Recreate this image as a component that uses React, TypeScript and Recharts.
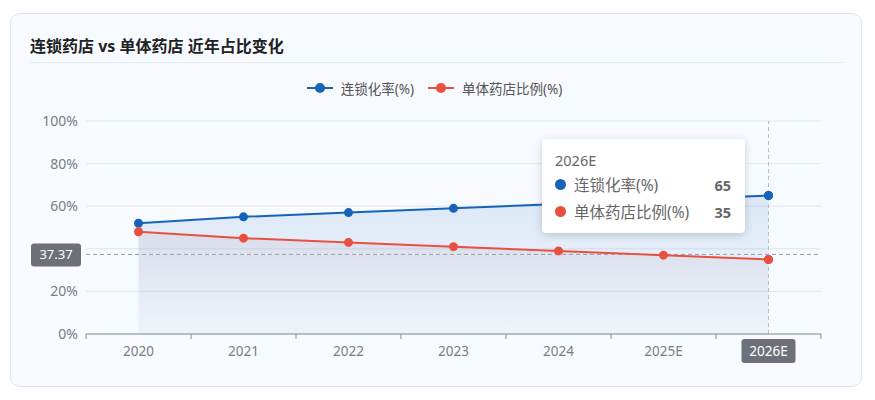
import React from 'react'
import { ComposedChart, Area, Line, XAxis, YAxis, CartesianGrid, Tooltip, ReferenceLine } from 'recharts'

const years = ['2020', '2021', '2022', '2023', '2024', '2025E', '2026E']
const chainRate = [52, 55, 57, 59, 61, 63, 65]
const singleRate = [48, 45, 43, 41, 39, 37, 35]
const yTicks = [0, 20, 40, 60, 80, 100]
const pointerValue = 37.37
const activeYear = '2026E'

const CHAIN_NAME = '连锁化率(%)'
const SINGLE_NAME = '单体药店比例(%)'
const BLUE = '#1763b8'
const RED = '#e8503f'
const FONT = '"Noto Sans", "Noto Sans CJK SC", sans-serif'

const data = years.map((year, i) => ({ year, chain: chainRate[i], single: singleRate[i] }))

const XTick = (props: any) => {
  const { x, y, payload, index } = props
  const half = payload.offset || 0
  const active = payload.value === activeYear
  return (
    <g>
      <line x1={x - half} x2={x - half} y1={y - 8} y2={y - 3} stroke="#8a8d96" />
      {index === years.length - 1 && <line x1={x + half} x2={x + half} y1={y - 8} y2={y - 3} stroke="#8a8d96" />}
      {active && <rect x={x - 27} y={y - 3} width={54} height={24} rx={3} fill="#6e7079" />}
      <text x={x} y={y + 14} textAnchor="middle" fontSize={13.5} fontFamily={FONT} fill={active ? '#fff' : '#7a7d86'}>
        {payload.value}
      </text>
    </g>
  )
}

const PointerLabel = (props: any) => {
  const { viewBox } = props
  const y = viewBox.y
  const x = viewBox.x
  return (
    <g>
      <rect x={x - 55} y={y - 11} width={50} height={23} rx={3} fill="#6e7079" />
      <text x={x - 30} y={y + 5} textAnchor="middle" fontSize={13} fontFamily={FONT} fill="#fff">
        {pointerValue}
      </text>
    </g>
  )
}

const TooltipBox = ({ active, payload, label }: any) => {
  if (!active || !payload || !payload.length) return null
  // areas and lines share dataKeys; keep the line entries (they come last)
  const rows = new Map<string, any>()
  payload.forEach((p: any) => rows.set(p.dataKey, p))
  return (
    <div style={{
      width: 176, padding: '11px 14px 8px 13px', background: '#fff', borderRadius: 4,
      boxShadow: '0 2px 8px rgba(0,0,0,0.18)', fontFamily: FONT, color: '#666', fontSize: 14.5,
    }}>
      <div style={{ marginBottom: 1 }}>{label}</div>
      {Array.from(rows.values()).map((p: any) => (
        <div key={p.dataKey} style={{ display: 'flex', alignItems: 'center', height: 27 }}>
          <span style={{ width: 11, height: 11, borderRadius: 6, background: p.color, marginRight: 8 }} />
          <span style={{ flex: 1, fontSize: 15.5 }}>{p.name}</span>
          <span style={{ fontWeight: 700 }}>{p.value}</span>
        </div>
      ))}
    </div>
  )
}

const LegendItem = ({ color, name }: { color: string; name: string }) => (
  <span style={{ display: 'inline-flex', alignItems: 'center', marginRight: 14 }}>
    <svg width={26} height={12} style={{ marginRight: 8 }}>
      <line x1={0} x2={26} y1={6} y2={6} stroke={color} strokeWidth={2} />
      <circle cx={13} cy={6} r={5} fill={color} />
    </svg>
    <span>{name}</span>
  </span>
)

export default function App() {
  return (
    <div style={{ position: 'relative', width: 867, height: 392, fontFamily: FONT }}>
      <div style={{
        position: 'absolute', left: 2, top: 5, width: 850, height: 372,
        background: '#f7faff', border: '1px solid #dde6f1', borderRadius: 10,
      }} />
      <div style={{ position: 'absolute', left: 22, top: 25, fontSize: 16, fontWeight: 700, color: '#222', fontFamily: FONT }}>
        连锁药店 vs 单体药店 近年占比变化
      </div>
      <div style={{ position: 'absolute', left: 22, top: 54, width: 813, height: 1, background: '#e6ebf2' }} />
      <div style={{
        position: 'absolute', left: 0, top: 70, width: 867, textAlign: 'center',
        fontSize: 13.5, color: '#555', whiteSpace: 'nowrap',
      }}>
        <LegendItem color={BLUE} name={CHAIN_NAME} />
        <LegendItem color={RED} name={SINGLE_NAME} />
      </div>
      <div style={{ position: 'absolute', left: 0, top: 0 }}>
        <ComposedChart width={867} height={392} data={data} margin={{ top: 113, right: 54, left: 28, bottom: 36 }}>
          <defs>
            <linearGradient id="blueFill" x1="0" y1="0" x2="0" y2="1">
              <stop offset="0%" stopColor={BLUE} stopOpacity={0.2} />
              <stop offset="100%" stopColor={BLUE} stopOpacity={0.03} />
            </linearGradient>
            <linearGradient id="grayFill" x1="0" y1="0" x2="0" y2="1">
              <stop offset="0%" stopColor="#a0708a" stopOpacity={0.2} />
              <stop offset="100%" stopColor="#9a90a8" stopOpacity={0.06} />
            </linearGradient>
          </defs>
          <CartesianGrid vertical={false} stroke="#e2e7ee" />
          <XAxis dataKey="year" scale="band" stroke="#8a8d96" tickLine={false} tick={<XTick />} height={30} interval={0} />
          <YAxis domain={[0, 100]} ticks={yTicks} tickFormatter={(v) => (v === 40 ? '' : `${v}%`)} axisLine={false} tickLine={false}
            width={50} tick={{ fill: '#7a7d86', fontSize: 14, fontFamily: FONT }} />
          <Area dataKey="chain" name={CHAIN_NAME} stroke="none" fill="url(#blueFill)" isAnimationActive={false}
            legendType="none" activeDot={false} />
          <Area dataKey="single" name={SINGLE_NAME} stroke="none" fill="url(#grayFill)" isAnimationActive={false}
            legendType="none" activeDot={false} />
          <ReferenceLine y={pointerValue} stroke="#9a9ca4" strokeDasharray="4 3" label={<PointerLabel />} />
          <ReferenceLine x={activeYear} stroke="#b9bcc4" strokeDasharray="4 3" />
          <Line dataKey="chain" name={CHAIN_NAME} stroke={BLUE} strokeWidth={2} dot={{ r: 3.5, fill: BLUE, stroke: BLUE }}
            activeDot={{ r: 3.5, fill: BLUE, stroke: BLUE }} isAnimationActive={false} />
          <Line dataKey="single" name={SINGLE_NAME} stroke={RED} strokeWidth={2} dot={{ r: 3.5, fill: RED, stroke: RED }}
            activeDot={{ r: 3.5, fill: RED, stroke: RED }} isAnimationActive={false} />
          <Tooltip content={<TooltipBox />} active defaultIndex={6} cursor={false} position={{ x: 534, y: 131 }}
            isAnimationActive={false} wrapperStyle={{ outline: 'none' }} />
        </ComposedChart>
      </div>
    </div>
  )
}
